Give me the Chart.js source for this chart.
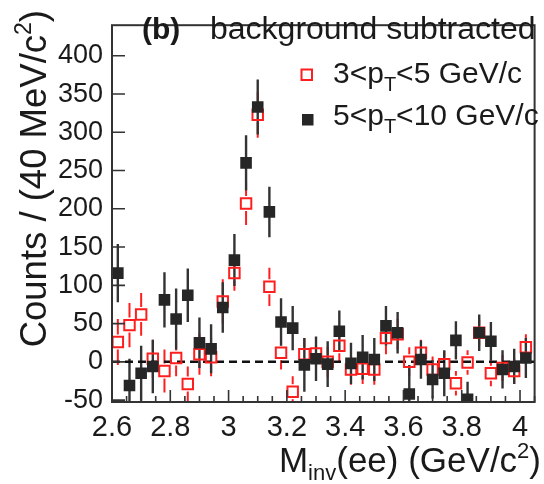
<!DOCTYPE html>
<html lang="en">
<head>
  <meta charset="UTF-8">
  <title>Minv(ee) background subtracted</title>
  <script src="https://cdn.jsdelivr.net/npm/chart.js@4.4.1/dist/chart.umd.min.js"></script>
  <style>
    body { margin: 0; background: #fff; }
    canvas { display: block; }
  </style>
</head>
<body>
  <canvas id="chart" width="544" height="484"></canvas>
  <script>
    // bin centres in GeV/c^2 (40 MeV bins)
    const massBins = [2.62, 2.66, 2.70, 2.74, 2.78, 2.82, 2.86, 2.90, 2.94, 2.98,
                      3.02, 3.06, 3.10, 3.14, 3.18, 3.22, 3.26, 3.30, 3.34, 3.38,
                      3.42, 3.46, 3.50, 3.54, 3.58, 3.62, 3.66, 3.70, 3.74, 3.78,
                      3.82, 3.86, 3.90, 3.94, 3.98, 4.02];

    // 5<pT<10 GeV/c (filled black)
    const countsHigh = [116, -31, -15, -6, 81, 56, 87, 25, 17, 71,
                        133, 260, 333, 196, 52, 44, -4, 4, -3, 40,
                        -2, 6, 3, 47, 38, -42, 3, -23, -15, 28,
                        -49, 38, 27, -10, -6, 5];
    const errHigh = [38, 35, 36, 35, 36, 40, 35, 33, 32, 33,
                     34, 36, 36, 33, 31, 29, 35, 29, 30, 27,
                     27, 29, 28, 26, 27, 38, 25, 25, 30, 25,
                     23, 24, 25, 25, 23, 26];

    // 3<pT<5 GeV/c (open red)
    const countsLow = [26, 48, 62, 4, -12, 5, -29, 10, 6, 79,
                       116, 207, 323, 98, 12, -39, 10, 11, 0, 21,
                       -10, -9, -10, 31, 36, 0, 12, -10, -3, -28,
                       -1, 38, -15, -8, -12, 19];
    const errLow = [30, 29, 28, 25, 28, 24, 23, 27, 25, 29,
                    23, 28, 30, 25, 22, 20, 21, 21, 20, 22,
                    20, 20, 20, 21, 20, 19, 17, 17, 17, 16,
                    16, 17, 17, 17, 17, 17];

    const xTickValues = [2.6, 2.8, 3.0, 3.2, 3.4, 3.6, 3.8, 4.0];
    const yTickValues = [-50, 0, 50, 100, 150, 200, 250, 300, 350, 400];
    const zeroLineX = [2.6, 4.05];

    const FONT = '"Liberation Sans", Arial, Helvetica, sans-serif';
    const TEXT = '#1a1a1a';
    const RED = '#ff1e1e';
    const BLACK = '#262626';

    // draws a line of text made of pieces (for sub/superscripts)
    function richText(ctx, parts, x, y, align) {
      const widths = parts.map(p => {
        ctx.font = (p.bold ? 'bold ' : '') + p.size + 'px ' + FONT;
        return ctx.measureText(p.text).width;
      });
      const total = widths.reduce((a, b) => a + b, 0);
      let cx = align === 'right' ? x - total : x;
      ctx.textAlign = 'left';
      ctx.textBaseline = 'alphabetic';
      parts.forEach((p, i) => {
        ctx.font = (p.bold ? 'bold ' : '') + p.size + 'px ' + FONT;
        ctx.fillText(p.text, cx, y + (p.dy || 0));
        cx += widths[i];
      });
    }

    const decorations = {
      id: 'decorations',
      beforeDatasetsDraw(chart) {
        const ctx = chart.ctx;
        const area = chart.chartArea;
        const xs = chart.scales.x, ys = chart.scales.y;
        ctx.save();
        ctx.beginPath();
        ctx.rect(area.left, area.top, area.right - area.left, area.bottom - area.top);
        ctx.clip();
        [[countsLow, errLow, RED, 2, 7.5], [countsHigh, errHigh, '#333', 2.4, 0]].forEach(([vals, errs, col, lw, gap]) => {
          ctx.strokeStyle = col;
          ctx.lineWidth = lw;
          massBins.forEach((m, i) => {
            const px = xs.getPixelForValue(m);
            const py = ys.getPixelForValue(vals[i]);
            const top = ys.getPixelForValue(vals[i] + errs[i]);
            const bot = ys.getPixelForValue(vals[i] - errs[i]);
            ctx.beginPath();
            ctx.moveTo(px, top); ctx.lineTo(px, py - gap);
            ctx.moveTo(px, py + gap); ctx.lineTo(px, bot);
            ctx.stroke();
          });
        });
        ctx.restore();
      },
      afterDraw(chart) {
        const ctx = chart.ctx;
        const a = chart.chartArea;
        const xs = chart.scales.x, ys = chart.scales.y;
        ctx.save();

        // frame and inward ticks
        ctx.strokeStyle = '#333';
        ctx.lineWidth = 2;
        ctx.strokeRect(a.left, a.top, a.right - a.left, a.bottom - a.top);
        ctx.lineWidth = 1.6;
        ctx.beginPath();
        yTickValues.forEach(v => {
          const py = ys.getPixelForValue(v);
          ctx.moveTo(a.left, py); ctx.lineTo(a.left + 13, py);
        });
        for (let k = 0; k <= 29; k++) {
          const v = 2.6 + k * 0.05;
          const px = xs.getPixelForValue(v);
          const len = k % 4 === 0 ? 12 : 6;
          ctx.moveTo(px, a.bottom); ctx.lineTo(px, a.bottom - len);
        }
        ctx.stroke();

        ctx.fillStyle = TEXT;
        // panel label
        richText(ctx, [{ text: '(b)', size: 30, bold: true }], 142, 39);
        richText(ctx, [{ text: 'background subtracted', size: 32 }], 210, 39);

        // legend
        ctx.strokeStyle = RED;
        ctx.lineWidth = 2;
        ctx.strokeRect(301.5, 69.5, 10.5, 10.5);
        ctx.fillStyle = BLACK;
        ctx.fillRect(302, 114, 11.5, 11.5);
        ctx.fillStyle = TEXT;
        richText(ctx, [
          { text: '3<p', size: 30 }, { text: 'T', size: 20, dy: 8 }, { text: '<5 GeV/c', size: 30 }
        ], 333, 83);
        richText(ctx, [
          { text: '5<p', size: 30 }, { text: 'T', size: 20, dy: 8 }, { text: '<10 GeV/c', size: 30 }
        ], 333, 125);

        // axis titles
        richText(ctx, [
          { text: 'M', size: 35 }, { text: 'inv', size: 22, dy: 8 },
          { text: '(ee) (GeV/c', size: 35 }, { text: '2', size: 22, dy: -14 }, { text: ')', size: 35 }
        ], 541, 472, 'right');

        ctx.translate(46, 10);
        ctx.rotate(-Math.PI / 2);
        richText(ctx, [
          { text: 'Counts / (40 MeV/c', size: 36.5 }, { text: '2', size: 23, dy: -15 }, { text: ')', size: 36.5 }
        ], 0, 0, 'right');
        ctx.restore();
      }
    };

    new Chart(document.getElementById('chart'), {
      type: 'scatter',
      data: {
        datasets: [
          {
            label: '5<pT<10 GeV/c',
            data: massBins.map((m, i) => ({ x: m, y: countsHigh[i] })),
            pointStyle: 'rect',
            pointRadius: 8.2,
            backgroundColor: BLACK,
            borderColor: BLACK,
            borderWidth: 0,
            order: 1
          },
          {
            label: '3<pT<5 GeV/c',
            data: massBins.map((m, i) => ({ x: m, y: countsLow[i] })),
            pointStyle: 'rect',
            pointRadius: 7.4,
            backgroundColor: 'rgba(255,255,255,0)',
            borderColor: RED,
            borderWidth: 2,
            order: 2
          },
          {
            type: 'line',
            label: 'zero',
            data: zeroLineX.map(x => ({ x: x, y: 0 })),
            borderColor: '#111',
            borderWidth: 2.5,
            borderDash: [8, 5],
            pointRadius: 0,
            order: 3
          }
        ]
      },
      options: {
        responsive: false,
        animation: false,
        devicePixelRatio: 1,
        layout: { padding: { top: 8, right: 1, left: 0, bottom: 0 } },
        plugins: { legend: { display: false }, tooltip: { enabled: false } },
        scales: {
          x: {
            type: 'linear',
            min: 2.6,
            max: 4.05,
            afterBuildTicks: s => { s.ticks = xTickValues.map(v => ({ value: v })); },
            afterFit: s => { s.height = 82; },
            grid: { display: false, drawTicks: false },
            border: { display: false },
            ticks: {
              autoSkip: false,
              maxRotation: 0,
              padding: 9,
              color: TEXT,
              font: { family: FONT, size: 29 },
              callback: v => String(Number(v.toFixed(1)))
            }
          },
          y: {
            min: -52.5,
            max: 440,
            afterBuildTicks: s => { s.ticks = yTickValues.map(v => ({ value: v })); },
            afterFit: s => { s.width = 112; },
            grid: { display: false, drawTicks: false },
            border: { display: false },
            ticks: {
              padding: 9,
              color: TEXT,
              font: { family: FONT, size: 27 }
            }
          }
        }
      },
      plugins: [decorations]
    });
  </script>
</body>
</html>
